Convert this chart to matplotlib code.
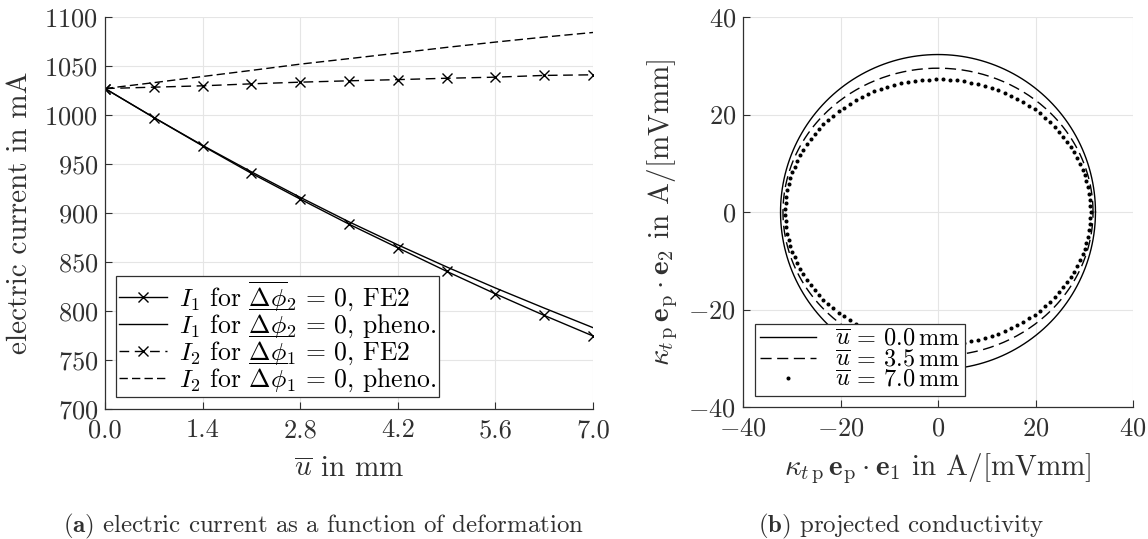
import numpy as np
import matplotlib
matplotlib.use("Agg")
import matplotlib.pyplot as plt

plt.rcParams['font.family'] = 'serif'
plt.rcParams['font.serif'] = ['cmr10', 'DejaVu Serif']
plt.rcParams['mathtext.fontset'] = 'cm'
plt.rcParams['axes.formatter.use_mathtext'] = True
plt.rcParams['axes.unicode_minus'] = True

# ---------------- data ----------------
u_mm = [0.0, 0.7, 1.4, 2.1, 2.8, 3.5, 4.2, 4.9, 5.6, 6.3, 7.0]
I1_fe2 = [1027.0, 997.4, 968.5, 940.5, 914.2, 888.6, 864.5, 840.5, 817.5, 795.5, 774.5]
I1_pheno = [1027.0, 997.5, 969.0, 942.0, 916.0, 891.0, 867.5, 845.0, 823.5, 803.0, 783.0]
I2_fe2 = [1027.0, 1028.4, 1029.8, 1031.8, 1033.5, 1034.9, 1036.1, 1037.5, 1038.6, 1040.4, 1041.0]
I2_pheno = [1027.0, 1033.0, 1039.3, 1045.5, 1051.9, 1057.5, 1063.2, 1069.0, 1074.4, 1079.5, 1084.2]

left_xticks = [0.0, 1.4, 2.8, 4.2, 5.6, 7.0]
left_yticks = [700, 750, 800, 850, 900, 950, 1000, 1050, 1100]

# projected conductivity: semi-axes along e1 and e2 for each deformation
u_levels = [0.0, 3.5, 7.0]
kappa_e1 = [32.3, 31.8, 31.3]
kappa_e2 = [32.3, 29.5, 27.2]
right_ticks = [-40, -20, 0, 20, 40]

# ---------------- figure ----------------
fig = plt.figure(figsize=(11.48, 5.39), dpi=100)
txt = '#303030'
gridc = '#e5e5e5'
FS_TICK = 19
FS_LAB = 21
FS_LEG = 18.5
FS_LEG2 = 17.5
FS_CAP = 17.9

def style(ax):
    ax.grid(True, color=gridc, linewidth=0.8)
    ax.set_axisbelow(True)
    for s in ['top', 'right']:
        ax.spines[s].set_visible(False)
    for s in ['left', 'bottom']:
        ax.spines[s].set_color(txt)
        ax.spines[s].set_linewidth(0.9)
    ax.tick_params(direction='in', length=5, width=0.8, colors=txt,
                   labelsize=FS_TICK)
    ax.tick_params(axis='x', pad=7)
    ax.tick_params(axis='y', pad=5)

ax1 = fig.add_axes([105/1148, 1-409/539, 488/1148, 392/539])
style(ax1)
lw = 1.0
ax1.plot(u_mm, I1_fe2, color='k', lw=lw, marker='x', ms=7, mew=1.0,
         label=r'$I_1$ for $\overline{\mathit{\Delta}\phi}_2\,=\,0$, FE2')
ax1.plot(u_mm, I1_pheno, color='k', lw=lw,
         label=r'$I_1$ for $\overline{\mathit{\Delta}\phi}_2\,=\,0$, pheno.')
ax1.plot(u_mm, I2_fe2, color='k', lw=lw, ls=(0, (7, 4)), marker='x', ms=7, mew=1.0,
         label=r'$I_2$ for $\overline{\mathit{\Delta}\phi}_1\,=\,0$, FE2')
ax1.plot(u_mm, I2_pheno, color='k', lw=lw, ls=(0, (6, 3)),
         label=r'$I_2$ for $\overline{\mathit{\Delta}\phi}_1\,=\,0$, pheno.')
ax1.set_xlim(0, 7.0)
ax1.set_ylim(700, 1100)
ax1.set_xticks(left_xticks)
ax1.set_xticklabels([f'{v:.1f}' for v in left_xticks])
ax1.set_yticks(left_yticks)
ax1.set_xlabel(r'$\overline{u}$ in mm', fontsize=FS_LAB, color=txt, labelpad=10)
ax1.set_ylabel('electric current in mA', fontsize=FS_LAB, color=txt, labelpad=8)
leg1 = ax1.legend(loc='lower left', bbox_to_anchor=(0.0225, 0.031), fontsize=FS_LEG,
                  frameon=True, fancybox=False, framealpha=1, edgecolor=txt,
                  handlelength=1.9, handletextpad=0.45, labelspacing=-0.26,
                  borderpad=0.1, borderaxespad=0.0)
leg1.get_frame().set_linewidth(0.9)

ax2 = fig.add_axes([743/1148, 1-407/539, 390/1148, 390/539])
style(ax2)
theta = np.linspace(0, 2*np.pi, 400)
theta_dots = np.linspace(0, 2*np.pi, 135, endpoint=False)
styles = [dict(ls='-', lw=1.0), dict(ls=(0, (8, 4)), lw=1.0), None]
for i, (uu, a, b) in enumerate(zip(u_levels, kappa_e1, kappa_e2)):
    lab = r'$\overline{u}\,=\,%.1f\,\mathrm{mm}$' % uu
    if styles[i] is None:
        ax2.plot(a*np.cos(theta_dots), b*np.sin(theta_dots), ls='none',
                 marker='o', ms=1.9, color='k', label=lab)
    else:
        ax2.plot(a*np.cos(theta), b*np.sin(theta), color='k', label=lab, **styles[i])
ax2.set_xlim(-40, 40)
ax2.set_ylim(-40, 40)
ax2.set_xticks(right_ticks)
ax2.set_yticks(right_ticks)
ax2.set_xlabel(r'$\kappa_{t\,\mathrm{p}}\,\mathbf{e}_\mathrm{p}\cdot\mathbf{e}_1$ in A/[mVmm]',
               fontsize=FS_LAB, color=txt, labelpad=8)
ax2.set_ylabel(r'$\kappa_{t\,\mathrm{p}}\,\mathbf{e}_\mathrm{p}\cdot\mathbf{e}_2$ in A/[mVmm]',
               fontsize=FS_LAB, color=txt, labelpad=6)
leg2 = ax2.legend(loc='lower left', bbox_to_anchor=(0.031, 0.028), fontsize=FS_LEG2,
                  frameon=True, fancybox=False, framealpha=1, edgecolor=txt,
                  handlelength=2.3, handletextpad=0.8, labelspacing=-0.08,
                  borderpad=0.2, borderaxespad=0.0)
leg2.get_frame().set_linewidth(0.9)

fig.text(63/1148, 1-526/539, r'$\mathbf{(a)}$ electric current as a function of deformation',
         fontsize=FS_CAP, color=txt, ha='left', va='center')
fig.text(901/1148, 1-526/539, r'$\mathbf{(b)}$ projected conductivity',
         fontsize=FS_CAP, color=txt, ha='center', va='center')

fig.savefig('out.png', dpi=100)
